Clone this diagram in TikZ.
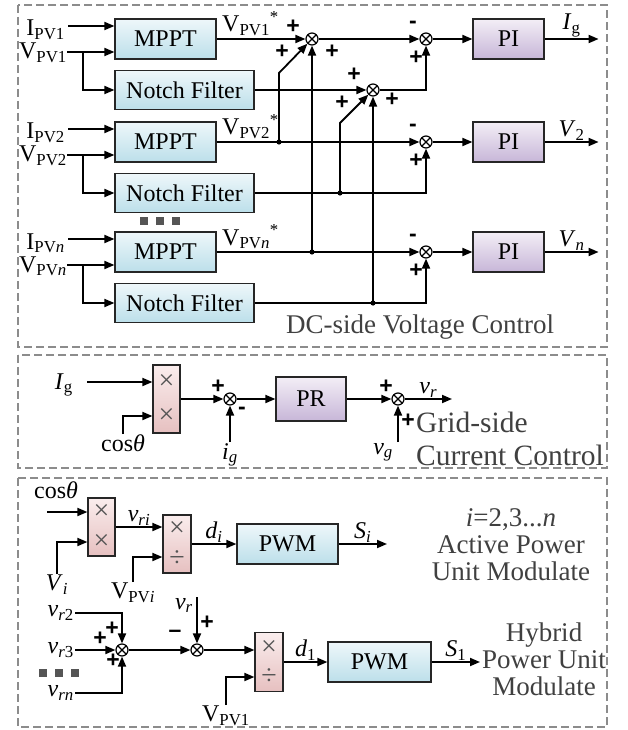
\documentclass[tikz,border=0pt]{standalone}
\usepackage{fontspec}
\setmainfont{Liberation Serif}
\newfontfamily\signfont{Liberation Sans}
\usepackage{xcolor}
\definecolor{cFrame}{HTML}{8C8C8C}
\definecolor{cCaption}{HTML}{404040}
\definecolor{cBlueTop}{HTML}{EEF7FA}
\definecolor{cBlueBot}{HTML}{BCDFEA}
\definecolor{cPurpTop}{HTML}{F3EEF6}
\definecolor{cPurpBot}{HTML}{C7B6D8}
\definecolor{cPinkTop}{HTML}{FAEDED}
\definecolor{cPinkBot}{HTML}{E6C0C0}
\definecolor{cMark}{HTML}{555555}
\usepackage{tikz}
\usetikzlibrary{positioning,arrows.meta,calc}
\newcommand{\fsMain}{\fontsize{24pt}{28pt}\selectfont}
\newcommand{\fsCap}{\fontsize{27pt}{29pt}\selectfont}
\tikzset{
  node-box/.style={draw=black!85,line width=1.2pt,minimum height=40pt,
    inner sep=0pt,font=\fsMain,top color=cBlueTop,bottom color=cBlueBot},
  node-pi/.style={node-box,top color=cPurpTop,bottom color=cPurpBot,
    minimum width=71pt},
  node-mul/.style={draw=black!85,line width=1.2pt,minimum width=27pt,
    inner sep=0pt,top color=cPinkTop,bottom color=cPinkBot},
  node-sum/.style={circle,draw,line width=1.2pt,minimum size=12pt,inner sep=0pt,
    path picture={\draw[line width=1.1pt]
      (path picture bounding box.north west) -- (path picture bounding box.south east)
      (path picture bounding box.north east) -- (path picture bounding box.south west);}},
  arrow/.style={-{Triangle[length=10pt,width=8pt]},line width=1.8pt},
  lbl/.style={font=\fsMain,inner sep=1pt},
  txt-sign/.style={font=\signfont\bfseries\fontsize{23pt}{23pt}\selectfont,inner sep=0pt},
  op-glyph/.style={font=\fontsize{28pt}{28pt}\selectfont,text=cMark,inner sep=0pt},
  text-caption/.style={font=\fsCap,text=cCaption,inner sep=0pt},
  panel-frame/.style={draw=cFrame,line width=1.5pt,dash pattern=on 8pt off 4pt},
}
\begin{document}
\begin{tikzpicture}[x=1pt,y=-1pt]
  \useasboundingbox (0,0) rectangle (627,730);
  \draw[panel-frame] (18,5) rectangle (607,347);
  \draw[panel-frame] (18,355) rectangle (607,468);
  \draw[panel-frame] (18,478) rectangle (607,727);

  % DC-side voltage control
  \foreach \k/\y/\sub in {1/39/1, 2/142/2, n/252/{\textit{n}}} {
    \node[node-box,minimum width=101pt] (mppt\k) at (165.5,\y) {MPPT};
    \node[node-box,minimum width=139pt,minimum height=39pt] (notch\k) at (184.5,\y+51) {Notch Filter};
    \coordinate (ipv\k) at (68,\y-13);
    \coordinate (vpv\k) at (67,\y+13);
    \coordinate (br\k) at (83,\y+13);
    \draw[arrow] (ipv\k) -- (ipv\k -| mppt\k.west);
    \draw[arrow] (vpv\k) -- (vpv\k -| mppt\k.west);
    \draw[arrow] (br\k) |- (notch\k);
    \node[lbl,anchor=base east,inner sep=0pt] at (65,\y-3) {I\textsubscript{PV\sub}};
    \node[lbl,anchor=base east,inner sep=0pt] at (67,\y+20) {V\textsubscript{PV\sub}};
    \node[lbl,anchor=base west,inner sep=0pt] at (222,\y-7) {V\textsubscript{PV\sub}\textsuperscript{*}};
    \node[node-pi] (pi\k) at (508.5,\y) {PI};
  }
  \node[node-sum] (sum1) at (312,39) {};
  \node[node-sum] (sum2) at (373,90) {};
  \node[node-sum] (sum3) at (426,39) {};
  \node[node-sum] (sum4) at (426,142) {};
  \node[node-sum] (sum5) at (426,252) {};
  \coordinate (j2) at (279,142);
  \coordinate (j3) at (340,193);
  \coordinate (jn) at (312,252);
  \coordinate (j4) at (373,303);
  \coordinate (d1) at (279,73);
  \coordinate (d2) at (340,123);
  \draw[arrow] (mppt1) -- (sum1);
  \draw[arrow] (sum1) -- (sum3);
  \draw[arrow] (j2) -- (d1) -- (sum1);
  \draw[arrow] (jn) -- (sum1);
  \draw[arrow] (notch1) -- (sum2);
  \draw[arrow] (j3) -- (d2) -- (sum2);
  \draw[arrow] (j4) -- (sum2);
  \draw[arrow] (sum2) -| (sum3);
  \draw[arrow] (mppt2) -- (sum4);
  \draw[arrow] (notch2) -| (sum4);
  \draw[arrow] (mpptn) -- (sum5);
  \draw[arrow] (notchn) -| (sum5);
  \foreach \k/\s/\o in {1/sum3/{\textit{I}\textsubscript{g}}, 2/sum4/{\textit{V}\textsubscript{2}},
      n/sum5/{\textit{V}\textsubscript{\textit{n}}}} {
    \draw[arrow] (\s) -- (pi\k);
    \coordinate (out\k) at ($(pi\k.east)+(54,0)$);
    \draw[arrow] (pi\k) -- node[lbl,above] {\o} (out\k);
  }
  \foreach \j in {j2,j3,jn,j4} \fill (\j) circle (2.6pt);
  \foreach \x in {144,160,176} \fill[cMark] (\x-4,217) rectangle (\x+4,225);
  \node[text-caption] (dc-cap) at (420,327) {DC-side Voltage Control};

  % grid-side current control
  \node[node-mul,minimum height=68pt] (mulg) at (166.5,399) {};
  \node[op-glyph] at ([yshift=17pt]mulg.center) {×};
  \node[op-glyph] at ([yshift=-17pt]mulg.center) {×};
  \coordinate (ig-ref) at (87,382);
  \draw[arrow] (ig-ref) -- (ig-ref -| mulg.west);
  \node[lbl,anchor=east] at ($(ig-ref)+(-13,3)$) {\textit{I}\textsubscript{g}};
  \coordinate (cos-ref) at (123,434);
  \draw[arrow] (cos-ref) |- ([yshift=-17pt]mulg.west);
  \node[lbl,anchor=north] at (cos-ref) {cos\textit{θ}};
  \node[node-sum] (sum6) at (230,399) {};
  \draw[arrow] (mulg) -- (sum6);
  \coordinate (ig-fb) at (230,442);
  \draw[arrow] (ig-fb) -- (sum6);
  \node[lbl,anchor=north] at (ig-fb) {\textit{i}\textsubscript{\textit{g}}};
  \node[node-pi,minimum width=70pt,minimum height=44pt] (pr) at (311,399) {PR};
  \draw[arrow] (sum6) -- (pr);
  \node[node-sum] (sum7) at (398,399) {};
  \draw[arrow] (pr) -- (sum7);
  \coordinate (vr-out) at (452,399);
  \draw[arrow] (sum7) -- node[lbl,above] {\textit{v}\textsubscript{\textit{r}}} (vr-out);
  \coordinate (vg-ref) at (398,442);
  \draw[arrow] (vg-ref) -- (sum7);
  \node[lbl,anchor=north east] at ($(vg-ref)+(-4,0)$) {\textit{v}\textsubscript{\textit{g}}};
  \node[text-caption,anchor=west,align=left,font=\fontsize{29.5pt}{33pt}\selectfont]
    (grid-cap) at (416,439) {Grid-side\\Current Control};

  % unit modulation
  \node[node-mul,minimum height=58pt] (mula) at (101.5,527) {};
  \node[op-glyph] at ([yshift=15pt]mula.center) {×};
  \node[op-glyph] at ([yshift=-15pt]mula.center) {×};
  \coordinate (cos-in) at (47,512);
  \draw[arrow] (cos-in) -- (cos-in -| mula.west);
  \node[lbl,anchor=base] at (56,498) {cos\textit{θ}};
  \coordinate (vi-in) at (57,574);
  \draw[arrow] (vi-in) |- ([yshift=-15pt]mula.west);
  \node[lbl,anchor=north] at (vi-in) {\textit{V}\textsubscript{\textit{i}}};
  \node[node-mul,minimum height=58pt,minimum width=28pt] (mulb) at (177,544) {};
  \node[op-glyph] at ([yshift=15pt]mulb.center) {×};
  \node[op-glyph] at ([yshift=-15pt]mulb.center) {÷};
  \draw[arrow] (mula) -- node[lbl,above] {\textit{v}\textsubscript{\textit{ri}}} (mula -| mulb.west);
  \coordinate (vpvi-in) at (133,582);
  \draw[arrow] (vpvi-in) |- ([yshift=-13pt]mulb.west);
  \node[lbl,anchor=north] at (vpvi-in) {V\textsubscript{PV\textit{i}}};
  \node[node-box,minimum width=101pt] (pwm1) at (287.5,544) {PWM};
  \draw[arrow] (mulb) -- node[lbl,above] {\textit{d}\textsubscript{\textit{i}}} (pwm1);
  \coordinate (si-out) at (387,544);
  \draw[arrow] (pwm1) -- node[lbl,above] {\textit{S}\textsubscript{\textit{i}}} (si-out);

  \node[node-sum] (sum8) at (122,650) {};
  \coordinate (vr2-in) at (75,613);
  \coordinate (vr3-in) at (75,650);
  \coordinate (vrn-in) at (75,693);
  \draw[arrow] (vr2-in) -| (sum8);
  \draw[arrow] (vr3-in) -- (sum8);
  \draw[arrow] (vrn-in) -| (sum8);
  \node[lbl,anchor=east] at (vr2-in) {\textit{v}\textsubscript{\textit{r}2}};
  \node[lbl,anchor=east] at (vr3-in) {\textit{v}\textsubscript{\textit{r}3}};
  \node[lbl,anchor=east] at (vrn-in) {\textit{v}\textsubscript{\textit{rn}}};
  \foreach \x in {43,59,75} \fill[cMark] (\x-4,669) rectangle (\x+4,677);
  \node[node-sum] (sum9) at (197,650) {};
  \draw[arrow] (sum8) -- (sum9);
  \coordinate (vr-in) at (197,597);
  \draw[arrow] (vr-in) -- (sum9);
  \node[lbl,anchor=north east] at ($(vr-in)+(-3,0)$) {\textit{v}\textsubscript{\textit{r}}};
  \node[node-mul,minimum height=59pt,minimum width=28pt] (mulc) at (269,662) {};
  \node[op-glyph] at (269,648) {×};
  \node[op-glyph] at (269,677) {÷};
  \draw[arrow] (sum9) -- (sum9 -| mulc.west);
  \coordinate (vpv1-in) at (226,705);
  \draw[arrow] (vpv1-in) |- ([yshift=-15pt]mulc.west);
  \node[lbl,anchor=north] at (vpv1-in) {V\textsubscript{PV1}};
  \node[node-box,minimum width=103pt] (pwm2) at (379.5,662) {PWM};
  \draw[arrow] (mulc) -- node[lbl,above] {\textit{d}\textsubscript{1}} (pwm2);
  \coordinate (s1-out) at (480,662);
  \draw[arrow] (pwm2) -- node[lbl,above] {\textit{S}\textsubscript{1}} (s1-out);
  \node[text-caption,align=center,font=\fontsize{27pt}{27pt}\selectfont]
    (active-cap) at (511,545) {\textit{i}=2,3...\textit{n}\\Active Power\\Unit Modulate};
  \node[text-caption,align=center,font=\fontsize{27pt}{27pt}\selectfont]
    (hybrid-cap) at (544,659) {Hybrid\\Power Unit\\Modulate};

  % signs at the summing points
  \foreach \s/\dx/\dy/\t in {sum1/-19/-12/+, sum1/-30/13/+, sum1/20/13/+,
      sum2/-19/-15/+, sum2/-31/13/+, sum2/19/10/+,
      sum3/-13/-14/-, sum3/-10/19/+, sum4/-13/-14/-, sum4/-10/19/+,
      sum5/-13/-14/-, sum5/-10/19/+, sum6/-12/-12/+, sum6/12/12/-,
      sum7/-12/-12/+, sum7/10/22/+, sum8/-10/-21/+, sum8/-22/-11/+,
      sum8/-9/11/+, sum9/-22/-16/–, sum9/10/-27/+}
    \node[txt-sign] at ($(\s)+(\dx,\dy)$) {\t};
\end{tikzpicture}
\end{document}
